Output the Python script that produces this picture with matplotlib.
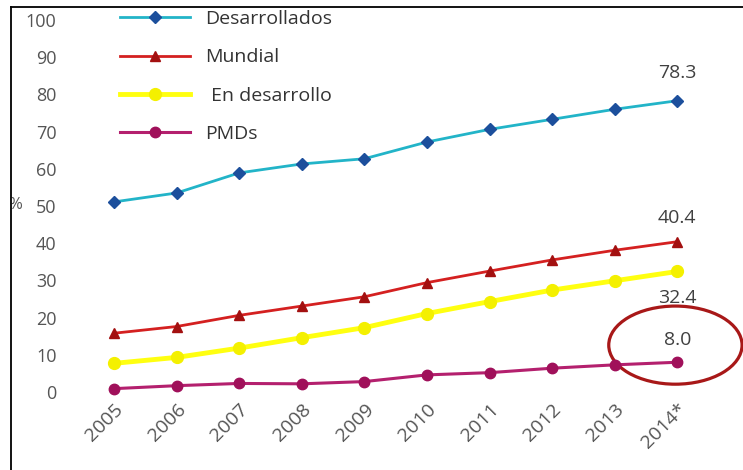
import matplotlib.pyplot as plt
from matplotlib.patches import Ellipse
from matplotlib.lines import Line2D
from matplotlib.transforms import Bbox

plt.rcParams['font.family'] = ['Open Sans', 'DejaVu Sans']

years = ["2005", "2006", "2007", "2008", "2009", "2010", "2011", "2012", "2013", "2014*"]
desarrollados = [51.1, 53.5, 58.9, 61.3, 62.7, 67.2, 70.6, 73.3, 76.0, 78.3]
mundial = [15.8, 17.6, 20.6, 23.1, 25.6, 29.4, 32.5, 35.5, 38.1, 40.4]
en_desarrollo = [7.7, 9.3, 11.8, 14.6, 17.3, 21.1, 24.3, 27.4, 29.9, 32.4]
pmds = [0.9, 1.7, 2.3, 2.2, 2.8, 4.6, 5.2, 6.4, 7.3, 8.0]

W, H = 743, 470
fig = plt.figure(figsize=(W / 100, H / 100), dpi=100)
ax = fig.add_axes([62 / W, 1 - 392 / H, (W - 62) / W, 372 / H])

x = list(range(len(years)))
ax.plot(x, desarrollados, color="#22b4c8", lw=2, marker="D", ms=6.5,
        mfc="#1c4f9c", mec="#1c4f9c", label="Desarrollados", clip_on=False)
ax.plot(x, mundial, color="#d42020", lw=2, marker="^", ms=7.5,
        mfc="#a31010", mec="#a31010", label="Mundial", clip_on=False)
ax.plot(x, en_desarrollo, color="#ffff10", lw=3.5, marker="o", ms=8.5,
        mfc="#f4f000", mec="#f4f000", label=" En desarrollo", clip_on=False)
ax.plot(x, pmds, color="#b4206e", lw=2.2, marker="o", ms=7.5,
        mfc="#a0105a", mec="#a0105a", label="PMDs", clip_on=False)

# end-of-series values
lbl = dict(fontsize=14, color="#404040", ha="center", va="center")
ax.text(x[-1], desarrollados[-1] + 7.5, f"{desarrollados[-1]:.1f}", **lbl)
ax.text(x[-1], mundial[-1] + 6.5, f"{mundial[-1]:.1f}", **lbl)
ax.text(x[-1], en_desarrollo[-1] - 7.0, f"{en_desarrollo[-1]:.1f}", **lbl)
ax.text(x[-1], pmds[-1] + 6.0, f"{pmds[-1]:.1f}", **lbl)

ax.add_patch(Ellipse((8.97, 12.6), 2.13, 21, fill=False, ec="#a81818",
                     lw=2.3, clip_on=False))

ax.set_xlim(-0.831, 10.05)
ax.set_ylim(0, 100)
ax.set_yticks(range(0, 101, 10))
ax.set_xticks(x)
ax.set_xticklabels(years)
ax.tick_params(length=0, labelsize=13, colors="#555555")
ax.tick_params(axis="y", pad=4)
ax.tick_params(axis="x", pad=6, labelsize=14)
for t in ax.get_xticklabels():
    t.set_rotation(45)
    t.set_ha("right")
    t.set_va("top")
    t.set_rotation_mode("anchor")
for s in ax.spines.values():
    s.set_visible(False)

leg = ax.legend(loc="upper left", bbox_to_anchor=(120 / W, 1 - 10 / H),
                bbox_transform=fig.transFigure, frameon=False, fontsize=14,
                handlelength=3.6, handletextpad=0.8, labelspacing=1.05,
                borderpad=0, borderaxespad=0)
for t in leg.get_texts():
    t.set_color("#333333")

# "%" axis title, cut off by the frame
pct = fig.text(8 / W, 1 - 205 / H, "%", fontsize=12, color="#555555",
               ha="left", va="center")
pct.set_clip_box(Bbox.from_extents(12, 0, W, H))
pct.set_clip_on(True)

# frame lines at left and top
fig.add_artist(Line2D([11 / W, 11 / W], [0, 1 - 7 / H], color="black",
                      lw=1.3, transform=fig.transFigure))
fig.add_artist(Line2D([11 / W, 1], [1 - 7 / H, 1 - 7 / H], color="black",
                      lw=1.3, transform=fig.transFigure))

fig.savefig("out.png", dpi=100)
